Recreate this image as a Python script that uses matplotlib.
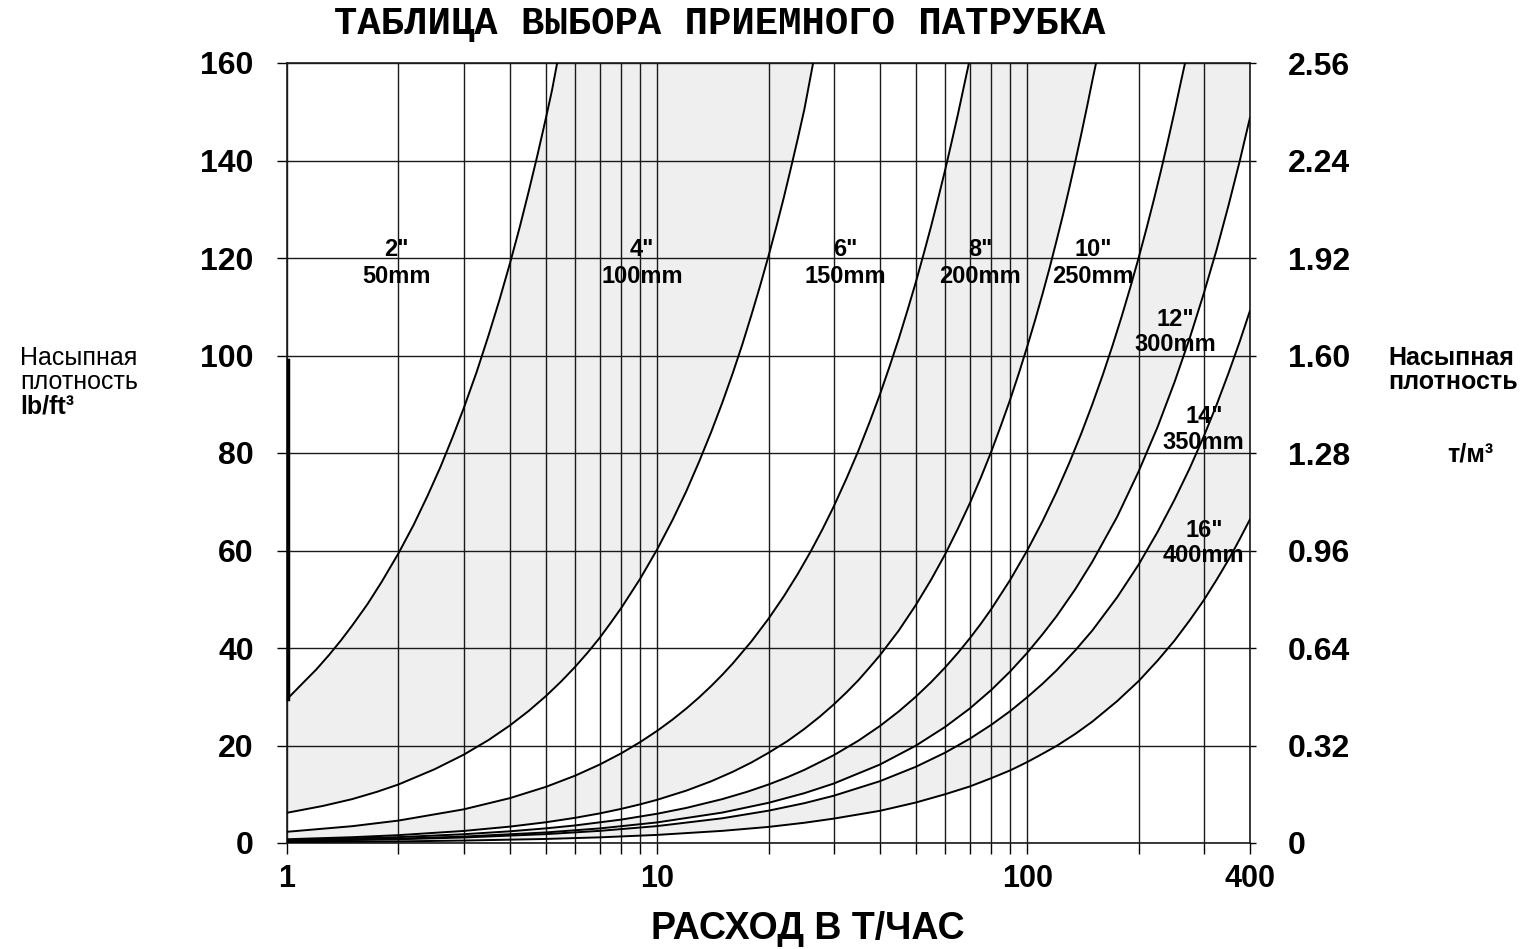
import matplotlib
matplotlib.use('Agg')
import matplotlib.pyplot as plt
from matplotlib.ticker import FixedLocator, NullFormatter

plt.rcParams['font.family'] = ['Liberation Sans', 'DejaVu Sans']

# flow (t/h) vs bulk density (lb/ft3), one boundary curve each
c1_x = [1, 1.1, 1.2, 1.3, 1.4, 1.5, 1.65, 1.8, 2, 2.2, 2.4, 2.6, 2.8, 3, 3.25, 3.5, 3.75,
        4, 4.25, 4.5, 4.75, 5, 5.2, 5.37]
c1_y = [29.5, 32.7, 35.6, 38.6, 41.6, 44.6, 49.0, 53.5, 59.4, 65.3, 71.3, 77.2, 83.2, 89.1,
        96.5, 104.0, 111.4, 118.8, 126.2, 133.7, 141.1, 148.5, 154.4, 160]

c2_x = [1, 1.25, 1.5, 1.75, 2, 2.5, 3, 3.5, 4, 4.5, 5, 5.5, 6, 6.5, 7, 7.5, 8, 9, 10, 11,
        12, 13, 14, 15, 16, 17, 18, 19, 20, 21, 22, 23, 24, 25, 26.4]
c2_y = [6.2, 7.6, 9.0, 10.5, 12.0, 15.1, 18.1, 21.1, 24.1, 27.1, 30.1, 33.1, 36.1, 39.1,
        42.1, 45.2, 48.2, 54.2, 60.2, 66.2, 72.2, 78.3, 84.3, 90.3, 96.3, 102.3, 108.4,
        114.4, 120.4, 126.4, 132.4, 138.5, 144.5, 150.5, 160]

c3_x = [1, 1.5, 2, 3, 4, 5, 6, 7, 8, 9, 10, 11, 12, 13, 14, 15, 16, 18, 20, 22, 24, 26, 28,
        30, 32.5, 35, 37.5, 40, 42.5, 45, 47.5, 50, 52.5, 55, 57.5, 60, 62.5, 65, 67.5, 69.6]
c3_y = [2.3, 3.45, 4.6, 6.9, 9.2, 11.5, 13.8, 16.1, 18.4, 20.7, 23, 25.3, 27.6, 29.9, 32.2,
        34.5, 36.8, 41.4, 46, 50.6, 55.2, 59.8, 64.4, 69, 74.8, 80.5, 86.3, 92, 97.8, 103.5,
        109.3, 115, 120.8, 126.5, 132.3, 138, 143.8, 149.5, 155.3, 160]

c4_x = [1, 1.5, 2, 3, 4, 5, 6, 7, 8, 9, 10, 12, 14, 16, 18, 20, 22.5, 25, 27.5, 30, 32.5,
        35, 37.5, 40, 45, 50, 55, 60, 65, 70, 75, 80, 85, 90, 95, 100, 105, 110, 115, 120,
        125, 130, 135, 140, 145, 150, 153.5]
c4_y = [0.77, 1.19, 1.61, 2.47, 3.36, 4.25, 5.16, 6.07, 7.0, 7.93, 8.86, 10.75, 12.66,
        14.59, 16.53, 18.5, 20.9, 23.4, 25.9, 28.4, 30.9, 33.4, 36.0, 38.5, 43.6, 48.8, 54.0,
        59.2, 64.5, 69.7, 75.0, 80.3, 85.7, 91.0, 96.4, 101.8, 107.2, 112.6, 118.0, 123.5,
        128.9, 134.4, 139.9, 145.4, 150.9, 156.4, 160]

c5_x = [1, 2, 3, 4, 5, 6, 8, 10, 12, 15, 17.5, 20, 22.5, 25, 30, 35, 40, 45, 50, 55, 60, 65,
        70, 75, 80, 90, 100, 110, 120, 130, 140, 150, 160, 170, 180, 190, 200, 210, 220, 230,
        240, 250, 260, 267]
c5_y = [0.6, 1.2, 1.8, 2.4, 3.0, 3.6, 4.8, 6, 7.2, 9, 10.5, 12, 13.5, 15, 18, 21, 24, 27,
        30, 33, 36, 39, 42, 45, 48, 54, 60, 66, 72, 78, 84, 90, 96, 102, 108, 114, 120, 126,
        132, 138, 144, 150, 156, 160]

c6_x = [1, 2, 3, 5, 7, 10, 15, 20, 25, 30, 40, 50, 60, 70, 80, 90, 100, 110, 120, 135, 150,
        175, 200, 225, 250, 275, 300, 325, 350, 375, 400]
c6_y = [0.46, 0.89, 1.32, 2.16, 2.99, 4.22, 6.24, 8.24, 10.22, 12.19, 16.09, 19.96, 23.8,
        27.6, 31.4, 35.2, 39.0, 42.8, 46.5, 52.1, 57.7, 66.9, 76.2, 85.3, 94.5, 103.6, 112.7,
        121.7, 130.8, 139.8, 148.8]

c7_x = [1, 2, 3, 5, 7, 10, 15, 20, 25, 30, 40, 50, 60, 70, 80, 90, 100, 110, 120, 135, 150,
        175, 200, 225, 250, 275, 300, 325, 350, 375, 400]
c7_y = [0.40, 0.77, 1.13, 1.82, 2.49, 3.47, 5.07, 6.63, 8.17, 9.69, 12.68, 15.63, 18.53,
        21.4, 24.25, 27.07, 29.9, 32.66, 35.4, 39.55, 43.6, 50.4, 57.1, 63.8, 70.4, 76.9,
        83.4, 89.9, 96.4, 102.8, 109.2]

c8_x = [1, 2, 3, 5, 7, 10, 15, 20, 25, 30, 40, 50, 60, 70, 80, 90, 100, 110, 120, 135, 150,
        175, 200, 225, 250, 275, 300, 325, 350, 375, 400]
c8_y = [0.17, 0.33, 0.5, 0.83, 1.16, 1.66, 2.49, 3.3, 4.15, 5.0, 6.6, 8.3, 10.0, 11.6, 13.3,
        14.9, 16.6, 18.3, 19.9, 22.4, 24.9, 29.1, 33.2, 37.4, 41.5, 45.7, 49.8, 54.0, 58.1,
        62.3, 66.4]

curves = [(c1_x, c1_y), (c2_x, c2_y), (c3_x, c3_y), (c4_x, c4_y),
          (c5_x, c5_y), (c6_x, c6_y), (c7_x, c7_y), (c8_x, c8_y)]
shaded_pairs = [(0, 1), (2, 3), (4, 5), (6, 7)]

# pipe size labels: (inch, mm, flow, density of top line, density of bottom line)
size_labels = [('2"', '50mm', 1.98, 121.8, 116.2),
               ('4"', '100mm', 9.1, 121.8, 116.2),
               ('6"', '150mm', 32.2, 121.8, 116.2),
               ('8"', '200mm', 74.6, 121.8, 116.2),
               ('10"', '250mm', 150.8, 121.8, 116.2),
               ('12"', '300mm', 251, 107.3, 102.2),
               ('14"', '350mm', 300, 87.4, 82.1),
               ('16"', '400mm', 300, 64.2, 58.9)]

x_major = [1, 10, 100, 400]
x_minor = [2, 3, 4, 5, 6, 7, 8, 9, 20, 30, 40, 50, 60, 70, 80, 90, 200, 300]
y_left = [0, 20, 40, 60, 80, 100, 120, 140, 160]
y_right = [0, 0.32, 0.64, 0.96, 1.28, 1.60, 1.92, 2.24, 2.56]
y_right_labels = ['0', '0.32', '0.64', '0.96', '1.28', '1.60', '1.92', '2.24', '2.56']

XMAX, YMAX = 400, 160
W, H = 1528, 949

fig = plt.figure(figsize=(W / 100, H / 100), dpi=100)
ax = fig.add_axes([287 / W, 106 / H, 963 / W, 780 / H])
ax.set_xscale('log')
ax.set_xlim(1, XMAX)
ax.set_ylim(0, YMAX)

# shaded bands between pairs of curves
for a, b in shaded_pairs:
    xa, ya = curves[a]
    xb, yb = curves[b]
    px = list(xa)
    py = list(ya)
    if ya[-1] >= YMAX and yb[-1] < YMAX:
        px.append(XMAX)
        py.append(YMAX)
    px += list(xb[::-1])
    py += list(yb[::-1])
    ax.fill(px, py, color='#efefef', lw=0, zorder=1)

for xs, ys in curves:
    ax.plot(xs, ys, color='black', lw=1.4, zorder=3)

# heavy stroke on the left edge
ax.plot([1.005, 1.005], [29.5, 99], color='black', lw=2.5, zorder=3, clip_on=False)

ax.xaxis.set_major_locator(FixedLocator(x_major))
ax.xaxis.set_minor_locator(FixedLocator(x_minor))
ax.xaxis.set_minor_formatter(NullFormatter())
ax.set_xticklabels([str(v) for v in x_major])
ax.set_yticks(y_left)
ax.set_yticklabels([str(v) for v in y_left])
ax.grid(which='both', axis='x', color='#1a1a1a', lw=1.0, zorder=2)
ax.grid(which='major', axis='y', color='#1a1a1a', lw=1.0, zorder=2)
ax.tick_params(axis='x', which='both', direction='out', length=8, width=1, pad=7,
               labelsize=22)
ax.tick_params(axis='y', which='major', direction='out', length=7, width=1, pad=17,
               labelsize=23)
for lab in ax.get_xticklabels() + ax.get_yticklabels():
    lab.set_fontweight('bold')
for sp in ax.spines.values():
    sp.set_color('#1a1a1a')
    sp.set_linewidth(1.2)

ax2 = ax.twinx()
ax2.set_ylim(0, 2.56)
ax2.set_yticks(y_right)
ax2.set_yticklabels(y_right_labels, fontweight='bold')
ax2.tick_params(axis='y', direction='out', length=4, width=1, pad=23, labelsize=23)
for sp in ax2.spines.values():
    sp.set_visible(False)

for top, bottom, fx, y1, y2 in size_labels:
    ax.text(fx, y1, top, ha='center', va='center', fontsize=17, fontweight='bold', zorder=4)
    ax.text(fx, y2, bottom, ha='center', va='center', fontsize=17, fontweight='bold', zorder=4)


def fpos(x, y):
    return x / W, 1 - y / H


fig.text(*fpos(720, 24), 'ТАБЛИЦА ВЫБОРА ПРИЕМНОГО ПАТРУБКА', ha='center', va='center',
         family='Liberation Mono', fontweight='bold', fontsize=28)
fig.text(*fpos(808, 929), 'РАСХОД В Т/ЧАС', ha='center', va='center',
         fontweight='bold', fontsize=27)

fig.text(*fpos(20, 358), 'Насыпная', ha='left', va='center', fontsize=18)
fig.text(*fpos(20, 382), 'плотность', ha='left', va='center', fontsize=18)
fig.text(*fpos(20, 407), 'lb/ft³', ha='left', va='center', fontsize=18, fontweight='bold')

fig.text(*fpos(1388, 358), 'Насыпная', ha='left', va='center', fontsize=18, fontweight='bold')
fig.text(*fpos(1388, 382), 'плотность', ha='left', va='center', fontsize=18, fontweight='bold')
fig.text(*fpos(1470, 455), 'т/м³', ha='center', va='center', fontsize=18, fontweight='bold')

fig.savefig('out.png', dpi=100, facecolor='white')
